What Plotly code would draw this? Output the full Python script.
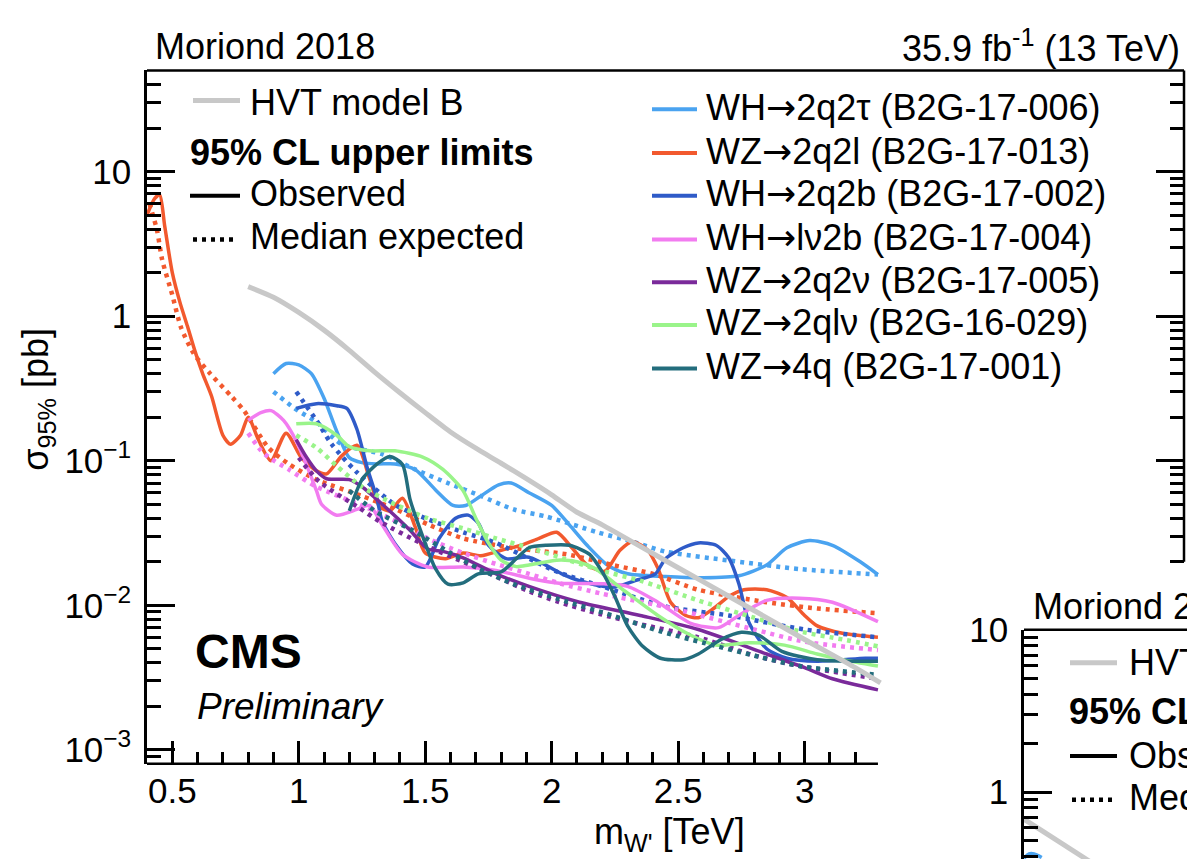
import math
import plotly.graph_objects as go

W, H = 1187, 864
FONT = "Liberation Sans, Arial, Helvetica, sans-serif"
FS = 36      # legend / header text
FS_TICK = 35  # axis tick labels

# ---------------- HVT model B prediction (W') ----------------
hvt_mass = [0.8, 0.9, 1.0, 1.1, 1.2, 1.3, 1.4, 1.5, 1.6, 1.7, 1.8, 1.9, 2.0, 2.1, 2.2, 2.4, 2.6, 2.8, 3.0, 3.2, 3.3]
hvt_xsec = [1.6, 1.35, 1.06, 0.8, 0.58, 0.41, 0.295, 0.215, 0.158, 0.122, 0.096, 0.075, 0.058, 0.044, 0.036,
            0.0228, 0.0145, 0.0092, 0.0058, 0.0037, 0.0029]

# ---------------- WH -> 2q2tau (B2G-17-006) ----------------
wh2q2tau_obs_mass = [0.90, 0.95, 1.00, 1.05, 1.10, 1.15, 1.20, 1.25, 1.31, 1.38, 1.46, 1.54, 1.61, 1.66, 1.72,
                     1.79, 1.84, 1.91, 2.00, 2.07, 2.14, 2.22, 2.30, 2.45, 2.60, 2.74, 2.85, 2.93, 3.02, 3.11,
                     3.22, 3.29]
wh2q2tau_obs_xsec = [0.40, 0.47, 0.46, 0.40, 0.27, 0.16, 0.105, 0.097, 0.095, 0.095, 0.087, 0.063, 0.049, 0.049,
                     0.057, 0.068, 0.070, 0.060, 0.049, 0.036, 0.026, 0.019, 0.0165, 0.0158, 0.0155, 0.016,
                     0.019, 0.025, 0.028, 0.026, 0.020, 0.0163]
wh2q2tau_exp_mass = [0.90, 0.97, 1.00, 1.07, 1.17, 1.33, 1.46, 1.59, 1.72, 1.85, 1.98, 2.18, 2.32, 2.45, 2.71,
                     2.98, 3.29]
wh2q2tau_exp_xsec = [0.30, 0.24, 0.22, 0.185, 0.13, 0.111, 0.087, 0.070, 0.057, 0.046, 0.041, 0.032, 0.0275,
                     0.0235, 0.0203, 0.0178, 0.0163]

# ---------------- WZ -> 2q2l (B2G-17-013) ----------------
wz2q2l_obs_mass = [0.40, 0.43, 0.45, 0.47, 0.50, 0.53, 0.56, 0.59, 0.62, 0.655, 0.70, 0.73, 0.77, 0.80, 0.84,
                   0.89, 0.95, 1.01, 1.07, 1.11, 1.17, 1.23, 1.28, 1.32, 1.36, 1.41, 1.46, 1.50, 1.58, 1.65,
                   1.72, 1.80, 1.88, 1.95, 2.02, 2.08, 2.14, 2.21, 2.27, 2.32, 2.38, 2.42, 2.47, 2.53, 2.58,
                   2.64, 2.70, 2.76, 2.85, 2.93, 3.00, 3.05, 3.15, 3.29]
wz2q2l_obs_xsec = [5.0, 6.5, 6.9, 4.2, 2.0, 1.25, 0.85, 0.57, 0.40, 0.28, 0.15, 0.13, 0.15, 0.20, 0.14,
                   0.10, 0.155, 0.105, 0.085, 0.081, 0.108, 0.128, 0.075, 0.048, 0.045, 0.055, 0.035, 0.023,
                   0.021, 0.023, 0.022, 0.024, 0.026, 0.029, 0.032, 0.025, 0.019, 0.0172, 0.024, 0.0275,
                   0.024, 0.018, 0.0105, 0.0085, 0.0082, 0.0095, 0.0115, 0.0128, 0.0128, 0.0113, 0.0085,
                   0.0072, 0.0064, 0.006]
wz2q2l_exp_mass = [0.41, 0.44, 0.46, 0.50, 0.535, 0.585, 0.65, 0.735, 0.785, 0.88, 0.96, 1.07, 1.25, 1.385,
                   1.515, 1.65, 1.84, 2.06, 2.24, 2.40, 2.58, 2.85, 3.05, 3.29]
wz2q2l_exp_xsec = [6.0, 3.9, 2.45, 1.4, 0.83, 0.55, 0.40, 0.277, 0.22, 0.123, 0.095, 0.074, 0.057, 0.046,
                   0.036, 0.029, 0.025, 0.0225, 0.019, 0.0165, 0.0128, 0.0105, 0.0095, 0.0088]

# ---------------- WH -> 2q2b (B2G-17-002) ----------------
wh2q2b_obs_mass = [0.99, 1.07, 1.15, 1.19, 1.23, 1.27, 1.31, 1.33, 1.385, 1.45, 1.50, 1.555, 1.62, 1.67, 1.71,
                   1.75, 1.82, 1.91, 2.04, 2.11, 2.24, 2.33, 2.41, 2.45, 2.52, 2.58, 2.65, 2.70, 2.74, 2.78,
                   2.85, 2.93, 3.05, 3.24, 3.29]
wh2q2b_obs_xsec = [0.23, 0.248, 0.24, 0.23, 0.165, 0.09, 0.054, 0.038, 0.026, 0.0193, 0.0184, 0.029, 0.040,
                   0.042, 0.037, 0.026, 0.021, 0.0215, 0.0165, 0.0148, 0.0133, 0.0148, 0.0165, 0.021, 0.025,
                   0.027, 0.026, 0.0213, 0.0141, 0.0076, 0.0050, 0.0043, 0.0041, 0.0043, 0.0043]
wh2q2b_exp_mass = [0.99, 1.07, 1.13, 1.23, 1.385, 1.50, 1.65, 1.78, 1.91, 2.03, 2.20, 2.45, 2.70, 3.00, 3.29]
wh2q2b_exp_xsec = [0.30, 0.19, 0.13, 0.083, 0.049, 0.040, 0.032, 0.027, 0.021, 0.0168, 0.0135, 0.0098, 0.0085,
                   0.0068, 0.0060]

# ---------------- WH -> lv2b (B2G-17-004) ----------------
whlv2b_obs_mass = [0.80, 0.85, 0.89, 0.94, 0.99, 1.04, 1.07, 1.09, 1.15, 1.23, 1.28, 1.33, 1.41, 1.51, 1.65,
                   1.78, 1.94, 2.03, 2.19, 2.30, 2.42, 2.55, 2.66, 2.74, 2.85, 2.98, 3.11, 3.29]
whlv2b_obs_xsec = [0.19, 0.215, 0.222, 0.19, 0.137, 0.085, 0.062, 0.050, 0.042, 0.046, 0.049, 0.036, 0.0225,
                   0.0184, 0.0184, 0.0174, 0.015, 0.0142, 0.0141, 0.0135, 0.0105, 0.0075, 0.0070, 0.0085,
                   0.0108, 0.0112, 0.0105, 0.0077]
whlv2b_exp_mass = [0.80, 0.85, 0.88, 0.96, 1.07, 1.25, 1.40, 1.51, 1.65, 1.78, 1.91, 2.03, 2.20, 2.49, 2.80,
                   3.00, 3.29]
whlv2b_exp_xsec = [0.155, 0.118, 0.106, 0.087, 0.066, 0.049, 0.037, 0.029, 0.023, 0.0193, 0.0165, 0.0142,
                   0.012, 0.0094, 0.0068, 0.0056, 0.0049]

# ---------------- WZ -> 2q2nu (B2G-17-005) ----------------
wz2q2nu_obs_mass = [0.99, 1.03, 1.07, 1.11, 1.20, 1.25, 1.33, 1.44, 1.51, 1.57, 1.65, 1.78, 1.91, 2.11, 2.35,
                    2.58, 2.85, 3.00, 3.11, 3.29]
wz2q2nu_obs_xsec = [0.14, 0.106, 0.085, 0.075, 0.074, 0.066, 0.050, 0.033, 0.0245, 0.0236, 0.0213, 0.0165,
                    0.0135, 0.0105, 0.0085, 0.0068, 0.0046, 0.0037, 0.0031, 0.0026]
wz2q2nu_exp_mass = [1.00, 1.08, 1.24, 1.32, 1.50, 1.71, 1.91, 2.03, 2.19, 2.35, 2.58, 2.80, 2.98, 3.29]
wz2q2nu_exp_xsec = [0.105, 0.072, 0.047, 0.038, 0.026, 0.018, 0.0125, 0.0105, 0.0087, 0.0074, 0.0060, 0.0045,
                    0.0038, 0.0031]

# ---------------- WZ -> 2qlnu (B2G-16-029) ----------------
wz2qlnu_obs_mass = [0.99, 1.07, 1.15, 1.20, 1.28, 1.38, 1.49, 1.57, 1.65, 1.70, 1.75, 1.80, 1.86, 1.91, 2.02,
                    2.10, 2.17, 2.29, 2.42, 2.55, 2.65, 2.78, 2.92, 3.05, 3.15, 3.29]
wz2qlnu_obs_xsec = [0.18, 0.18, 0.15, 0.125, 0.117, 0.117, 0.106, 0.087, 0.062, 0.040, 0.027, 0.0205, 0.0185,
                    0.019, 0.0205, 0.020, 0.018, 0.0125, 0.0085, 0.0062, 0.0053, 0.0055, 0.0053, 0.0046,
                    0.0042, 0.0038]
wz2qlnu_exp_mass = [0.99, 1.07, 1.15, 1.25, 1.38, 1.51, 1.65, 1.78, 1.91, 2.03, 2.19, 2.35, 2.58, 2.80, 2.98,
                    3.15, 3.29]
wz2qlnu_exp_xsec = [0.15, 0.123, 0.092, 0.066, 0.050, 0.040, 0.034, 0.029, 0.025, 0.0215, 0.0175, 0.0148,
                    0.0108, 0.0082, 0.0066, 0.0058, 0.0052]

# ---------------- WZ -> 4q (B2G-17-001) ----------------
wz4q_obs_mass = [1.20, 1.25, 1.31, 1.36, 1.41, 1.44, 1.49, 1.54, 1.59, 1.65, 1.71, 1.80, 1.86, 1.91, 1.98,
                 2.07, 2.15, 2.20, 2.25, 2.30, 2.36, 2.43, 2.52, 2.58, 2.67, 2.75, 2.82, 2.91, 3.05, 3.29]
wz4q_obs_xsec = [0.045, 0.074, 0.095, 0.107, 0.094, 0.054, 0.030, 0.018, 0.014, 0.0143, 0.0165, 0.017, 0.021,
                 0.025, 0.026, 0.026, 0.0225, 0.017, 0.0115, 0.0072, 0.0052, 0.0043, 0.0042, 0.0046, 0.0058,
                 0.0065, 0.0062, 0.0048, 0.0042, 0.0041]
wz4q_exp_mass = [1.20, 1.30, 1.45, 1.60, 1.71, 1.85, 2.03, 2.24, 2.43, 2.60, 2.82, 2.98, 3.29]
wz4q_exp_xsec = [0.062, 0.045, 0.033, 0.023, 0.018, 0.014, 0.011, 0.0085, 0.0066, 0.0055, 0.0044, 0.0038,
                 0.0033]

# ---------------- second (partially shown) panel ----------------
hvt2_mass = [0.6, 0.8, 1.0, 1.2]
hvt2_xsec = [0.68, 0.43, 0.27, 0.17]
lblue2_mass = [0.60, 0.62, 0.64, 0.67]
lblue2_xsec = [0.39, 0.415, 0.415, 0.395]

# tick labels
x_major = [0.5, 1.0, 1.5, 2.0, 2.5, 3.0]
x_labels = ["0.5", "1", "1.5", "2", "2.5", "3"]
y_major = [1e-3, 1e-2, 1e-1, 1, 10]
y_labels = ["10<sup>−3</sup>", "10<sup>−2</sup>", "10<sup>−1</sup>", "1", "10"]

ARROW = '<span style="font-family:DejaVu Sans">→</span>'
legend_labels = ["WH" + ARROW + "2q2τ (B2G-17-006)", "WZ" + ARROW + "2q2l (B2G-17-013)",
                 "WH" + ARROW + "2q2b (B2G-17-002)", "WH" + ARROW + "lν2b (B2G-17-004)",
                 "WZ" + ARROW + "2q2ν (B2G-17-005)", "WZ" + ARROW + "2qlν (B2G-16-029)",
                 "WZ" + ARROW + "4q (B2G-17-001)"]
colors = ["#4aa3f0", "#f2592e", "#2f5bc8", "#f27cf0", "#7a2a9a", "#9af48a", "#236d7d"]
hvt_color = "#c8c8c8"


def fx(p):
    return p / W


def fy(p):
    return 1 - p / H


# main frame geometry (pixels)
L, R, T, B = 147, 1184, 52, 766
YLO, YHI = math.log10(8e-4), math.log10(50)
XLO, XHI = 0.4, 4.5
X_CUT = 3.29


def y_paper(v):
    frac = (math.log10(v) - YLO) / (YHI - YLO)
    return fy(B) + frac * (fy(T) - fy(B))


def x_paper(m):
    return fx(L) + (m - XLO) / (XHI - XLO) * (fx(R) - fx(L))


fig = go.Figure()

series = [
    (wh2q2tau_obs_mass, wh2q2tau_obs_xsec, wh2q2tau_exp_mass, wh2q2tau_exp_xsec),
    (wz2q2l_obs_mass, wz2q2l_obs_xsec, wz2q2l_exp_mass, wz2q2l_exp_xsec),
    (wh2q2b_obs_mass, wh2q2b_obs_xsec, wh2q2b_exp_mass, wh2q2b_exp_xsec),
    (whlv2b_obs_mass, whlv2b_obs_xsec, whlv2b_exp_mass, whlv2b_exp_xsec),
    (wz2q2nu_obs_mass, wz2q2nu_obs_xsec, wz2q2nu_exp_mass, wz2q2nu_exp_xsec),
    (wz2qlnu_obs_mass, wz2qlnu_obs_xsec, wz2qlnu_exp_mass, wz2qlnu_exp_xsec),
    (wz4q_obs_mass, wz4q_obs_xsec, wz4q_exp_mass, wz4q_exp_xsec),
]

DOT = "4px,5px"

for (om, ox, em, ex), col in zip(series, colors):
    fig.add_trace(go.Scatter(x=em, y=ex, mode="lines",
                             line=dict(color=col, width=4.5, dash=DOT, shape="spline", smoothing=0.7),
                             showlegend=False, hoverinfo="skip"))
    fig.add_trace(go.Scatter(x=om, y=ox, mode="lines",
                             line=dict(color=col, width=3.5, shape="spline", smoothing=0.7),
                             showlegend=False, hoverinfo="skip"))

fig.add_trace(go.Scatter(x=hvt_mass, y=hvt_xsec, mode="lines",
                         line=dict(color=hvt_color, width=5, shape="spline", smoothing=0.6),
                         showlegend=False, hoverinfo="skip"))

# carrier trace for the right-hand tick axis
fig.add_trace(go.Scatter(x=[None], y=[None], yaxis="y2", showlegend=False, hoverinfo="skip"))

# second panel
fig.add_trace(go.Scatter(x=lblue2_mass, y=lblue2_xsec, xaxis="x3", yaxis="y3", mode="lines",
                         line=dict(color=colors[0], width=3.5, shape="spline"), showlegend=False,
                         hoverinfo="skip"))
fig.add_trace(go.Scatter(x=hvt2_mass, y=hvt2_xsec, xaxis="x3", yaxis="y3", mode="lines",
                         line=dict(color=hvt_color, width=5), showlegend=False, hoverinfo="skip"))


def minor_log(lo, hi):
    out = []
    for e in range(-4, 3):
        for k in range(2, 10):
            v = k * 10 ** e
            if lo <= v <= hi:
                out.append(v)
    return out


x_minor = [round(0.6 + 0.1 * i, 1) for i in range(27)]
x_minor = [v for v in x_minor if all(abs(v - M) > 1e-6 for M in x_major)]

tickfont = dict(family=FONT, size=FS_TICK, color="black")
TW = 2.5

fig.update_layout(
    width=W, height=H,
    margin=dict(l=0, r=0, t=0, b=0),
    paper_bgcolor="white", plot_bgcolor="rgba(0,0,0,0)",
    showlegend=False,
    font=dict(family=FONT, size=FS, color="black"),
    xaxis=dict(domain=[fx(L), fx(R)], range=[XLO, XHI], anchor="y", showline=False, showgrid=False,
               zeroline=False, ticks="inside", tickmode="array", tickvals=x_major, ticktext=x_labels,
               ticklen=23, tickwidth=TW, tickcolor="black", tickfont=tickfont, ticklabelstandoff=3,
               minor=dict(tickmode="array", tickvals=x_minor, ticks="inside", ticklen=12,
                          tickwidth=TW, tickcolor="black", showgrid=False)),
    yaxis=dict(type="log", domain=[fy(B), fy(T)], range=[YLO, YHI], anchor="x", showline=True,
               linecolor="black", linewidth=TW, showgrid=False, zeroline=False, ticks="inside",
               tickmode="array", tickvals=y_major, ticktext=y_labels, ticklen=28, tickwidth=TW,
               tickcolor="black", tickfont=tickfont, ticklabelstandoff=6,
               minor=dict(tickmode="array", tickvals=minor_log(8.5e-4, 49), ticks="inside",
                          ticklen=14, tickwidth=TW, tickcolor="black", showgrid=False)),
    yaxis2=dict(type="log", overlaying="y", side="right", anchor="x", range=[YLO, YHI], showline=False,
                showgrid=False, zeroline=False, ticks="inside", tickmode="array", tickvals=[0.1, 1, 10],
                ticklen=28, tickwidth=TW, tickcolor="black", showticklabels=False,
                minor=dict(tickmode="array", tickvals=minor_log(0.019, 49), ticks="inside",
                           ticklen=14, tickwidth=TW, tickcolor="black", showgrid=False)),
    xaxis3=dict(domain=[fx(1024), 1.0], range=[0.6, 0.6 + 163 / 253], anchor="y3", visible=False),
    yaxis3=dict(type="log", domain=[0, fy(628)], range=[1 - 236 / 167, 1.0005], anchor="x3",
                showline=True, linecolor="black", linewidth=TW, showgrid=False, zeroline=False,
                ticks="inside", tickmode="array", tickvals=[1, 10], ticktext=["1", "10"], ticklen=28,
                tickwidth=TW, tickcolor="black", tickfont=tickfont, ticklabelstandoff=6,
                minor=dict(tickmode="array", tickvals=minor_log(0.39, 9.5), ticks="inside", ticklen=14,
                           tickwidth=TW, tickcolor="black", showgrid=False)),
)

shapes = []


def seg(x0, y0, x1, y1, color="black", width=TW, dash="solid"):
    shapes.append(dict(type="line", xref="paper", yref="paper", x0=x0, y0=y0, x1=x1, y1=y1,
                       line=dict(color=color, width=width, dash=dash), layer="above"))


# frame of the main panel
seg(fx(L), fy(T), fx(R), fy(T))
seg(fx(R), fy(T), fx(R), y_paper(0.02))
seg(fx(L), fy(B), x_paper(X_CUT), fy(B))
# frame of the second panel
seg(fx(1024), fy(628), 1.0, fy(628))

# legend (left column)
seg(fx(193), fy(83), fx(240), fy(83), color=hvt_color, width=5)
seg(fx(190), fy(181), fx(240), fy(181), width=4)
seg(fx(193), fy(226), fx(238), fy(226), width=4.5, dash=DOT)
# legend (right column)
rows = [92, 137, 181, 226, 270, 314, 359]
for ry, col in zip(rows, colors):
    seg(fx(652), fy(ry), fx(697), fy(ry), color=col, width=4)
# legend of the second panel
seg(fx(1070), fy(662), fx(1117), fy(662), color=hvt_color, width=5)
seg(fx(1070), fy(758), fx(1117), fy(758), width=4)
seg(fx(1072), fy(803), fx(1115), fy(803), width=4.5, dash=DOT)

annotations = []


def text(s, x, y, anchor="left", size=FS, bold=False, italic=False, angle=0):
    if bold:
        s = "<b>" + s + "</b>"
    if italic:
        s = "<i>" + s + "</i>"
    annotations.append(dict(text=s, x=fx(x), y=fy(y), xref="paper", yref="paper", showarrow=False,
                            xanchor=anchor, yanchor="middle", textangle=angle,
                            font=dict(family=FONT, size=size, color="black")))


text("Moriond 2018", 153, 27)
text("35.9 fb<sup>-1</sup> (13 TeV)", 1182, 27, anchor="right")
text("HVT model B", 248, 85)
text("95% CL upper limits", 188, 136, bold=True)
text("Observed", 248, 179)
text("Median expected", 248, 223)
for ry, lab in zip(rows, legend_labels):
    text(lab, 704, ry - 2)
text("CMS", 193, 650, size=48, bold=True)
text("Preliminary", 195, 707, size=37, italic=True)
text("m<sub>W'</sub> [TeV]", 747, 838, anchor="right")
text("σ<sub>95%</sub> [pb]", 38, 390, anchor="center", angle=-90)
# second panel texts
text("Moriond 2018", 1031, 604)
text("HVT model B", 1127, 662)
text("95% CL upper limits", 1067, 712, bold=True)
text("Observed", 1127, 757)
text("Median expected", 1127, 801)

fig.update_layout(shapes=shapes, annotations=annotations)

fig.write_html("out.html")
